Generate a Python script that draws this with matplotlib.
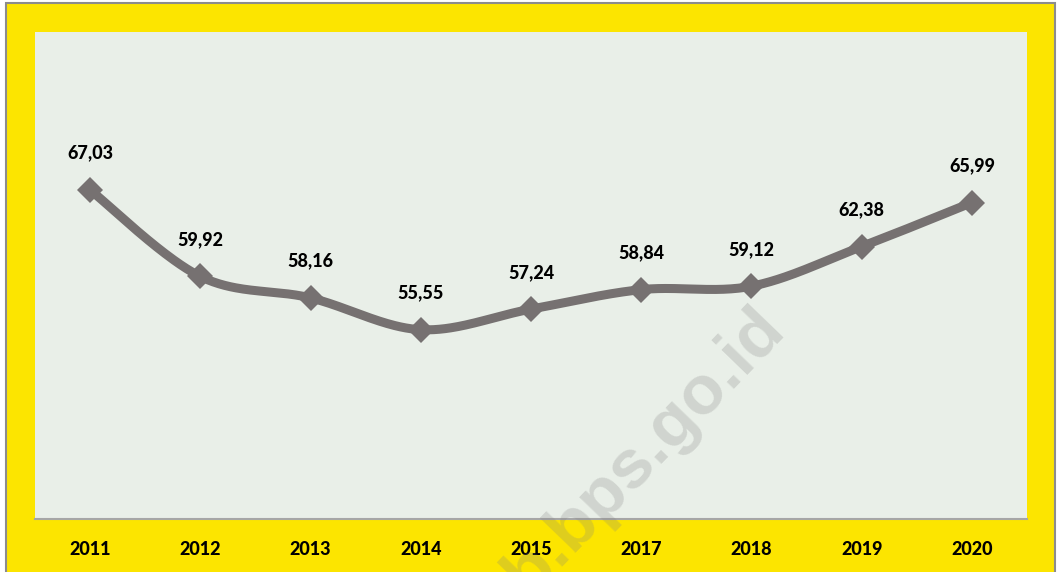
import numpy as np
import matplotlib
matplotlib.use("Agg")
import matplotlib.pyplot as plt
from matplotlib.patches import Rectangle
from matplotlib import font_manager as fm

# ---- data ----
years = ["2011", "2012", "2013", "2014", "2015", "2017", "2018", "2019", "2020"]
values = [67.03, 59.92, 58.16, 55.55, 57.24, 58.84, 59.12, 62.38, 65.99]

# ---- style ----
YELLOW = "#FCE500"
PLOT_BG = "#E9EFE8"
LINE_C = "#767171"
FONT = "Lato"

W, H = 1059, 572
fig = plt.figure(figsize=(W / 100, H / 100), dpi=100)
fig.patch.set_facecolor("white")

# yellow frame with gray border
fig.patches.append(Rectangle((6 / W, -0.02), (1055 - 6) / W, 1 - 2.5 / H + 0.02,
                             transform=fig.transFigure, facecolor=YELLOW,
                             edgecolor="#8C8C8C", linewidth=1.5, zorder=0))

ax = fig.add_axes([35 / W, 1 - 519 / H, (1027 - 35) / W, (519 - 32) / H])
ax.set_facecolor(PLOT_BG)
ax.set_zorder(1)

x = np.arange(len(values))
y = np.array(values)

# Smooth curve (Catmull-Rom -> cubic Bezier, like Excel smoothed line)
def smooth(xs, ys, n=60):
    px, py = [], []
    N = len(xs)
    for i in range(N - 1):
        i0, i3 = max(i - 1, 0), min(i + 2, N - 1)
        p0 = np.array([xs[i0], ys[i0]]); p1 = np.array([xs[i], ys[i]])
        p2 = np.array([xs[i + 1], ys[i + 1]]); p3 = np.array([xs[i3], ys[i3]])
        c1 = p1 + (p2 - p0) / 6.0
        c2 = p2 - (p3 - p1) / 6.0
        t = np.linspace(0, 1, n)[:, None]
        b = ((1 - t) ** 3) * p1 + 3 * ((1 - t) ** 2) * t * c1 + 3 * (1 - t) * t ** 2 * c2 + t ** 3 * p2
        px.extend(b[:, 0]); py.extend(b[:, 1])
    return np.array(px), np.array(py)

sx, sy = smooth(x, y)
ax.plot(sx, sy, color=LINE_C, linewidth=6.5, solid_capstyle="round", zorder=3)
ax.plot(x, y, linestyle="none", marker="D", markersize=13.5, color=LINE_C,
        markeredgewidth=0, zorder=4)

WEIGHT = 900
for xi, yi in zip(x, y):
    ax.annotate(f"{yi:.2f}".replace(".", ","), (xi, yi), xytext=(0, 26.5),
                textcoords="offset points", ha="center", va="center",
                fontsize=13, fontweight=WEIGHT, family=FONT, color="black", zorder=5)

ax.set_xlim(-0.5, len(values) - 0.5)
ax.set_ylim(40, 80)
ax.set_xticks(x)
ax.set_xticklabels(years, fontsize=13, fontweight=WEIGHT, family=FONT)
ax.tick_params(axis="x", length=0, pad=16)
ax.set_yticks([])
for s in ["top", "left", "right"]:
    ax.spines[s].set_visible(False)
ax.spines["bottom"].set_color("#A6A6A6")
ax.spines["bottom"].set_linewidth(1.5)

# watermark
fig.text(786 / W, 1 - 330 / H, "kab.bps.go.id", rotation=46, rotation_mode="anchor",
         ha="right", va="baseline", fontsize=50, fontweight="bold",
         family="Liberation Sans", color="#808080", alpha=0.24, zorder=10)

fig.savefig("out.png", dpi=100, facecolor=fig.get_facecolor())
